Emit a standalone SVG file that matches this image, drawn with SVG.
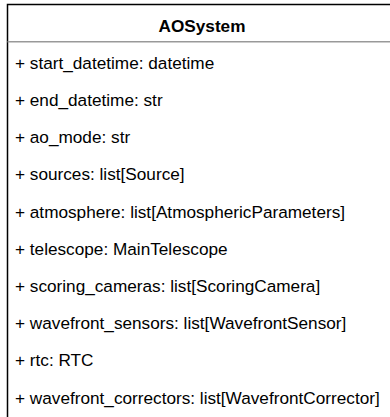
<svg xmlns="http://www.w3.org/2000/svg" width="390" height="417" viewBox="0 0 390 417">
<style>
.t{font-family:"Liberation Sans",Arial,sans-serif;font-size:17.2px;fill:#000}
.b{font-weight:bold}
</style>
<rect width="390" height="417" fill="#fff"/>
<g id="AOSystem">
<path d="M7.5 425 V4.5 H400" fill="none" stroke="#000" stroke-width="1.5"/>
<line x1="7.5" y1="41.7" x2="400" y2="41.7" stroke="#999" stroke-width="1.5"/>
<text class="t b" x="202" y="31.5" text-anchor="middle">AOSystem</text>
<text class="t" x="15" y="68.8">+ start_datetime: datetime</text>
<text class="t" x="15" y="106">+ end_datetime: str</text>
<text class="t" x="15" y="143.2">+ ao_mode: str</text>
<text class="t" x="15" y="180.4">+ sources: list[Source]</text>
<text class="t" x="15" y="217.6">+ atmosphere: list[AtmosphericParameters]</text>
<text class="t" x="15" y="254.8">+ telescope: MainTelescope</text>
<text class="t" x="15" y="292">+ scoring_cameras: list[ScoringCamera]</text>
<text class="t" x="15" y="329.2">+ wavefront_sensors: list[WavefrontSensor]</text>
<text class="t" x="15" y="366.4">+ rtc: RTC</text>
<text class="t" x="15" y="403.6">+ wavefront_correctors: list[WavefrontCorrector]</text>
</g>
</svg>
